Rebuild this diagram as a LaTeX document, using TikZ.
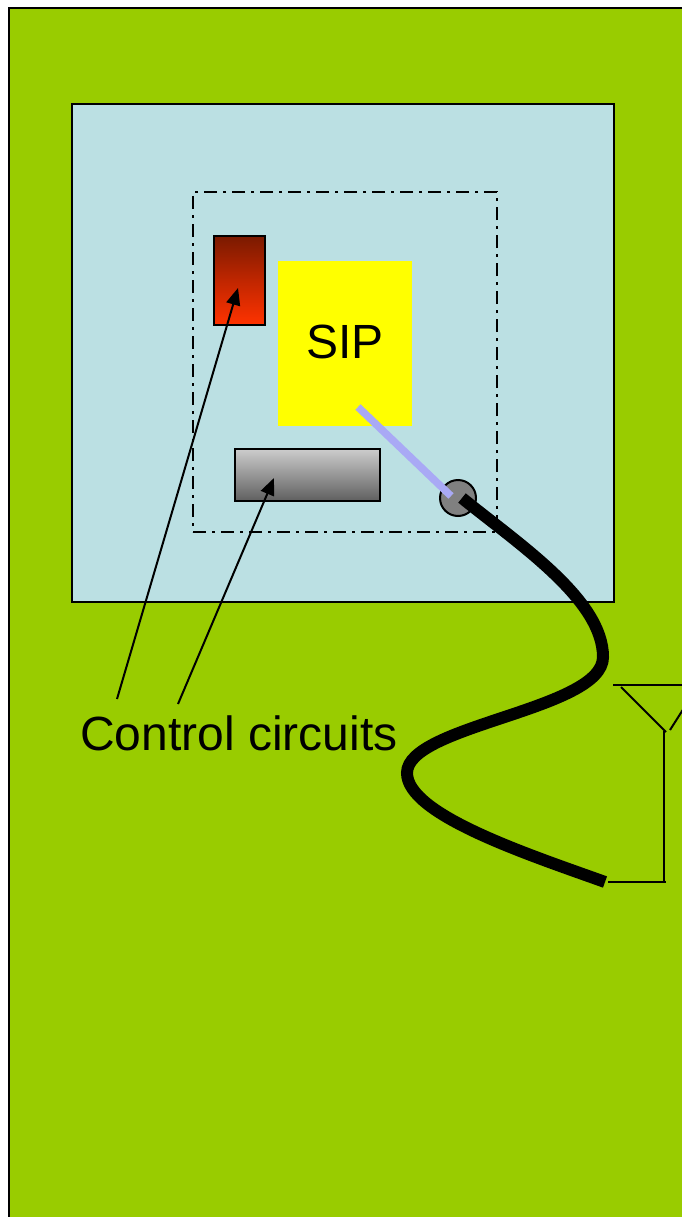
\documentclass[tikz,border=0pt]{standalone}
\usepackage{fontspec}
\setmainfont{Liberation Sans}
\usetikzlibrary{arrows.meta}
\definecolor{boardgreen}{HTML}{99CC00}
\definecolor{panelblue}{HTML}{BBE0E3}
\definecolor{lavender}{HTML}{A9A9F5}
\definecolor{sipyellow}{HTML}{FFFF00}
\definecolor{redtop}{HTML}{7A1A00}
\definecolor{redbottom}{HTML}{FF3300}
\definecolor{redmid}{HTML}{C02600}
\definecolor{graytop}{HTML}{CCCCCC}
\definecolor{graybottom}{HTML}{5F5F5F}
\definecolor{graymid}{HTML}{969696}
\definecolor{portgray}{HTML}{808080}
\tikzset{
  boardbox/.style={draw=black,line width=2pt,fill=boardgreen},
  panelbox/.style={draw=black,line width=2pt,fill=panelblue,inner sep=0pt},
  regionbox/.style={draw=black,line width=2.8pt,dash pattern=on 13pt off 6pt on 3pt off 6pt,inner sep=0pt},
  redbox/.style={draw=black,line width=2pt,inner sep=0pt,top color=redtop,bottom color=redbottom,middle color=redmid},
  graybox/.style={draw=black,line width=2pt,inner sep=0pt,top color=graytop,bottom color=graybottom,middle color=graymid},
  sipbox/.style={fill=sipyellow,inner sep=0pt},
  port/.style={circle,draw=black,line width=2pt,fill=portgray,inner sep=0pt,minimum size=36pt},
  labeltext/.style={inner sep=0pt,anchor=base west,font=\fontsize{48}{50}\selectfont},
  callout/.style={draw=black,line width=2pt,-{Triangle[length=17pt,width=14pt]}},
  fibre/.style={draw=lavender,line width=7.5pt},
  cable/.style={draw=black,line width=12pt},
  antenna/.style={draw=black,line width=2pt}
}
\begin{document}
\begin{tikzpicture}[x=1pt,y=-1pt]
\useasboundingbox (0,0) rectangle (682,1217);
\clip (0,0) rectangle (682,1217);
\fill[white] (0,0) rectangle (682,1217);
\draw[boardbox] (9.2,8) rectangle (700,1240);
\node[panelbox,minimum width=542.5pt,minimum height=498pt] (panel) at (342.75,353) {};
\node[regionbox,minimum width=304pt,minimum height=340pt] (region) at (345,362) {};
\node[redbox,minimum width=50.5pt,minimum height=89pt] (redblock) at (239.5,280.5) {};
\node[sipbox,minimum width=134.5pt,minimum height=165.5pt] (sip) at (345,343.5) {};
\node[inner sep=0pt,font=\fontsize{48}{50}\selectfont] (siptext) at (345,341.5) {SIP};
\node[graybox,minimum width=144.5pt,minimum height=52pt] (grayblock) at (307.5,475) {};
\node[port] (portnode) at (458,498) {};
\node[labeltext] (ctrl) at (80,750) {Control circuits};
\coordinate (fibrestart) at (358,407);
\coordinate (fibreend) at (451,496);
\draw[fibre] (fibrestart) -- (fibreend);
\coordinate (cablestart) at (462,498);
\coordinate (cableend) at (605,882);
\draw[cable] (cablestart) .. controls (520,545) and (603,600) .. (603,657)
  .. controls (603,710) and (407,725) .. (407,773)
  .. controls (407,815) and (530,855) .. (cableend);
\coordinate (a1) at (117,699);
\coordinate (a2) at (178,704);
\coordinate (t1) at (238,288);
\coordinate (t2) at (274,478);
\draw[callout] (a1) -- (t1);
\draw[callout] (a2) -- (t2);
\coordinate (feedL) at (608,882);
\coordinate (feedR) at (666,882);
\coordinate (mastB) at (663.5,882);
\coordinate (mastT) at (663.5,731);
\coordinate (dishL) at (613,685);
\coordinate (dishR) at (682,685);
\coordinate (armLa) at (621,687);
\coordinate (armLb) at (666,732);
\coordinate (armRa) at (670,730);
\coordinate (armRb) at (684,708);
\draw[antenna] (feedL) -- (feedR);
\draw[antenna] (mastB) -- (mastT);
\draw[antenna] (dishL) -- (dishR);
\draw[antenna] (armLa) -- (armLb);
\draw[antenna] (armRa) -- (armRb);
\end{tikzpicture}
\end{document}
